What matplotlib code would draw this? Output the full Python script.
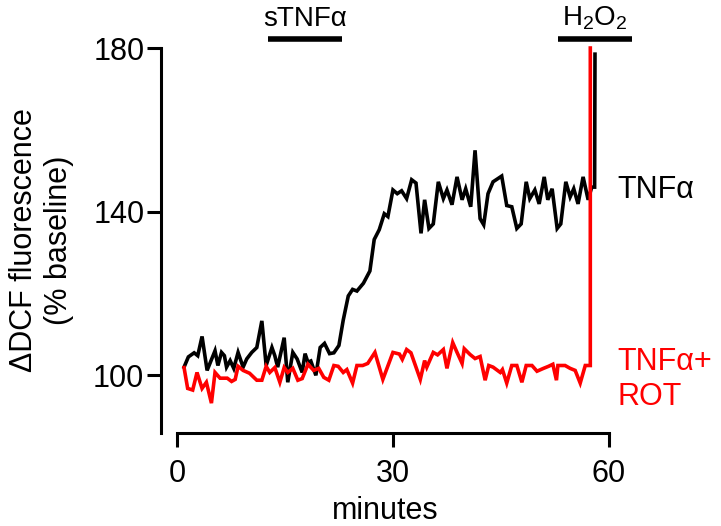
import matplotlib
matplotlib.use('Agg')
import matplotlib.pyplot as plt
import matplotlib.transforms as mtransforms

plt.rcParams['font.family'] = ['Liberation Sans', 'DejaVu Sans']
plt.rcParams['mathtext.fontset'] = 'custom'
plt.rcParams['mathtext.rm'] = 'Liberation Sans'

# TNFa trace (minutes, % baseline)
tnf_t = [1.0, 1.6, 2.4, 2.9, 3.5, 4.2, 5.3, 5.7, 6.2, 6.6, 6.9, 7.4, 7.9, 8.5,
         9.2, 9.7, 10.4, 11.1, 11.8, 12.4, 13.2, 13.6, 14.0, 14.9, 15.4, 16.1,
         16.7, 17.4, 17.8, 18.2, 18.6, 19.3, 19.9, 20.5, 21.2, 21.8, 22.5, 23.1,
         23.8, 24.4, 25.0, 25.9, 26.8, 27.4, 28.1, 28.8, 29.3, 30.0, 30.6, 31.2,
         31.9, 32.6, 33.2, 33.9, 34.4, 35.0, 35.6, 36.3, 37.0, 37.5, 38.2, 38.9,
         39.6, 40.1, 40.8, 41.4, 42.1, 42.6, 43.2, 43.9, 45.1, 45.8, 46.5, 47.2,
         47.8, 48.5, 49.0, 49.7, 50.3, 51.0, 51.5, 52.1, 52.8, 53.3, 54.0, 54.6,
         55.1, 55.7, 56.4, 57.1, 57.6, 58.0, 58.05]
tnf_v = [102.0, 104.5, 105.5, 104.8, 109.5, 101.2, 106.0, 102.4, 105.6, 104.8,
         102.0, 103.6, 101.7, 105.6, 102.0, 104.0, 105.6, 106.8, 113.3, 102.4,
         106.8, 104.8, 102.0, 109.2, 98.3, 105.6, 104.0, 100.7, 105.3, 103.2,
         103.5, 100.0, 106.8, 107.8, 105.3, 105.5, 107.3, 113.5, 119.4, 121.0,
         120.6, 122.5, 125.5, 133.2, 135.6, 139.5, 138.8, 145.3, 144.4, 145.1,
         143.2, 147.8, 147.0, 134.7, 142.9, 135.9, 137.0, 147.3, 143.2, 145.3,
         141.7, 148.5, 142.9, 145.6, 141.2, 155.0, 138.3, 136.8, 144.4, 147.3,
         148.7, 141.5, 141.2, 135.9, 137.0, 147.3, 143.2, 145.3, 141.9, 148.5,
         142.9, 145.6, 135.9, 137.0, 147.3, 143.6, 145.6, 141.9, 148.5, 142.9,
         146.0, 146.0, 178.5]

# TNFa + rotenone trace
rot_t = [1.0, 1.5, 2.2, 2.8, 3.5, 4.1, 4.8, 5.3, 6.0, 7.0, 7.6, 8.1, 8.5, 9.2,
         10.1, 11.1, 11.8, 12.4, 12.9, 13.6, 14.3, 14.9, 15.4, 16.1, 16.8, 17.4,
         18.2, 19.0, 19.7, 20.4, 21.1, 21.8, 22.4, 23.1, 23.6, 24.4, 25.0, 25.8,
         26.5, 27.5, 28.6, 30.0, 30.9, 31.3, 31.9, 32.5, 33.8, 34.4, 34.7, 35.6,
         36.2, 37.0, 37.5, 38.3, 38.9, 39.6, 39.9, 40.7, 41.4, 42.1, 42.8, 43.3,
         43.9, 44.9, 45.2, 45.8, 46.5, 47.2, 47.9, 48.5, 49.3, 50.0, 50.9, 51.6,
         52.2, 52.7, 52.9, 53.9, 54.6, 55.3, 56.0, 56.7, 57.4, 57.4]
rot_v = [101.9, 96.8, 96.4, 100.7, 96.8, 98.3, 93.2, 100.7, 99.3, 99.3, 98.5,
         99.0, 102.2, 101.2, 100.5, 98.8, 98.8, 102.2, 100.7, 101.9, 98.3, 101.9,
         100.7, 101.7, 98.8, 99.2, 102.7, 101.2, 101.7, 99.5, 98.8, 102.4, 102.2,
         100.7, 101.4, 98.1, 102.4, 102.4, 102.9, 105.6, 99.0, 105.6, 105.2,
         103.9, 106.3, 105.5, 99.0, 103.6, 102.0, 105.6, 105.0, 106.3, 101.7,
         108.0, 105.6, 102.9, 106.5, 105.1, 104.1, 104.6, 98.8, 102.4, 102.0,
         100.7, 101.4, 98.1, 102.4, 102.4, 98.3, 102.4, 102.4, 101.0, 101.7,
         102.2, 102.7, 98.8, 102.4, 102.4, 101.7, 101.2, 98.1, 102.4, 102.4, 180.0]

xticks = [0, 30, 60]
yticks = [100, 140, 180]
stim_tnf = (12.6, 22.9)
stim_h2o2 = (52.9, 63.2)

fig = plt.figure(figsize=(7.21, 5.26), dpi=100)
ax = fig.add_axes([0.2233, 0.1768, 0.6214, 0.7319])

ax.plot(tnf_t, tnf_v, color='black', lw=2.6, solid_joinstyle='miter')
ax.plot(rot_t, rot_v, color='#ff0000', lw=2.6, solid_joinstyle='miter', clip_on=False)

ax.set_xlim(-2.2, 60)
ax.set_ylim(85.9, 180)
ax.set_xticks(xticks)
ax.set_yticks(yticks)
for s in ['top', 'right']:
    ax.spines[s].set_visible(False)
for s in ['left', 'bottom']:
    ax.spines[s].set_linewidth(2.2)
ax.spines['bottom'].set_bounds(0, 60)
ax.tick_params(axis='both', direction='out', length=10, width=2.2, labelsize=22)
ax.tick_params(axis='y', pad=2)
ax.tick_params(axis='x', pad=9)

ax.set_xlabel('minutes', fontsize=22, labelpad=5)
ax.set_ylabel('ΔDCF fluorescence\n(% baseline)', fontsize=22, labelpad=14)

# stimulus bars above the plot
trans = mtransforms.blended_transform_factory(ax.transData, fig.transFigure)
ax.plot(stim_tnf, [0.926, 0.926], color='black', lw=4, transform=trans, clip_on=False,
        solid_capstyle='butt')
ax.plot(stim_h2o2, [0.926, 0.926], color='black', lw=4, transform=trans, clip_on=False,
        solid_capstyle='butt')
ax.text(17.8, 0.94, 'sTNFα', transform=trans, ha='center', va='bottom', fontsize=20)
ax.text(58.0, 0.94, r'$\mathregular{H_2O_2}$', transform=trans, ha='center', va='bottom',
        fontsize=20)

# series labels
ax.text(61.2, 145.3, 'TNFα', color='black', fontsize=22, va='center', ha='left', clip_on=False)
ax.text(61.2, 99.0, 'TNFα+\nROT', color='#ff0000', fontsize=22, va='center', ha='left',
        linespacing=1.25, clip_on=False)

fig.savefig('out.png', dpi=100)
